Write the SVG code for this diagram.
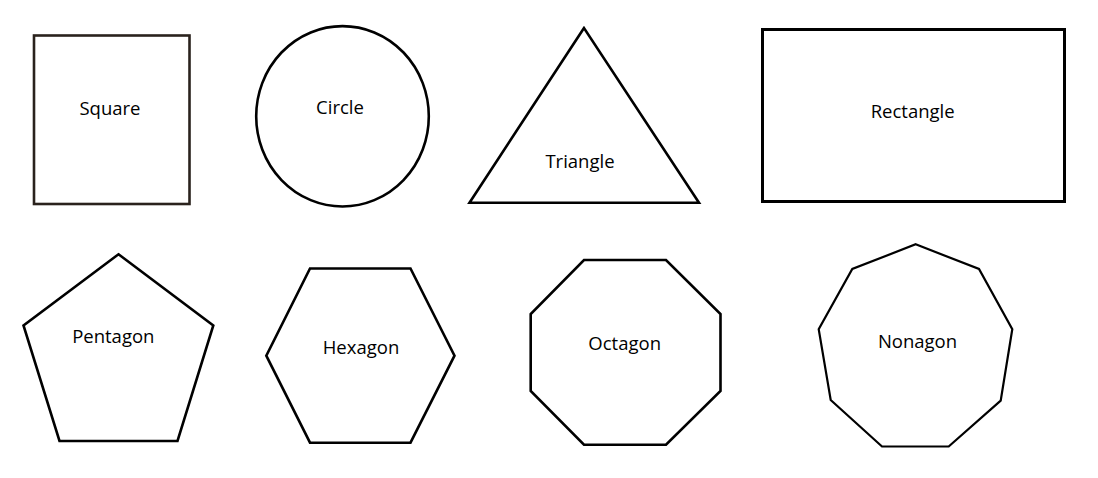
<svg xmlns="http://www.w3.org/2000/svg" width="1098" height="478" viewBox="0 0 1098 478">
<style>
.s{fill:#fff;stroke:#000;stroke-width:2.6;stroke-linejoin:miter}
.t{font-family:"Open Sans","Liberation Sans",sans-serif;font-size:18.5px;fill:#000;text-anchor:middle}
</style>
<rect width="1098" height="478" fill="#fff"/>
<g id="square"><rect class="s" x="34" y="35.5" width="155.5" height="168.5" style="stroke:#2a221d"/><text class="t" x="110" y="115">Square</text></g>
<g id="circle"><ellipse class="s" cx="342.5" cy="116.3" rx="86.3" ry="90.2"/><text class="t" x="340" y="113.5">Circle</text></g>
<g id="triangle"><polygon class="s" points="584,28 469.5,202.7 699,202.7"/><text class="t" x="580" y="168.3">Triangle</text></g>
<g id="rectangle"><rect class="s" x="762.5" y="29.5" width="302" height="172" style="stroke-width:3"/><text class="t" x="912.7" y="117.7">Rectangle</text></g>
<g id="pentagon"><polygon class="s" points="118.5,254.3 213.3,325.5 177.5,441 59.5,441 23.5,325.5"/><text class="t" x="113.3" y="342.5">Pentagon</text></g>
<g id="hexagon"><polygon class="s" points="310,268.5 410.5,268.5 454.5,355.7 410.5,442.7 310,442.7 266.3,355.7"/><text class="t" x="361" y="354">Hexagon</text></g>
<g id="octagon"><polygon class="s" points="584,260 666,260 720.5,314 720.5,391 666,444.7 584,444.7 530.7,391 530.7,314"/><text class="t" x="624.7" y="350">Octagon</text></g>
<g id="nonagon"><polygon class="s" points="915.7,244.3 979,269 1012.3,329.3 1000.7,400.7 948.7,446.5 882,446.5 830.7,400 818.7,329.3 852.3,269" style="stroke-width:2.2"/><text class="t" x="917.5" y="348.3">Nonagon</text></g>
<g id="connectors"/>
</svg>
